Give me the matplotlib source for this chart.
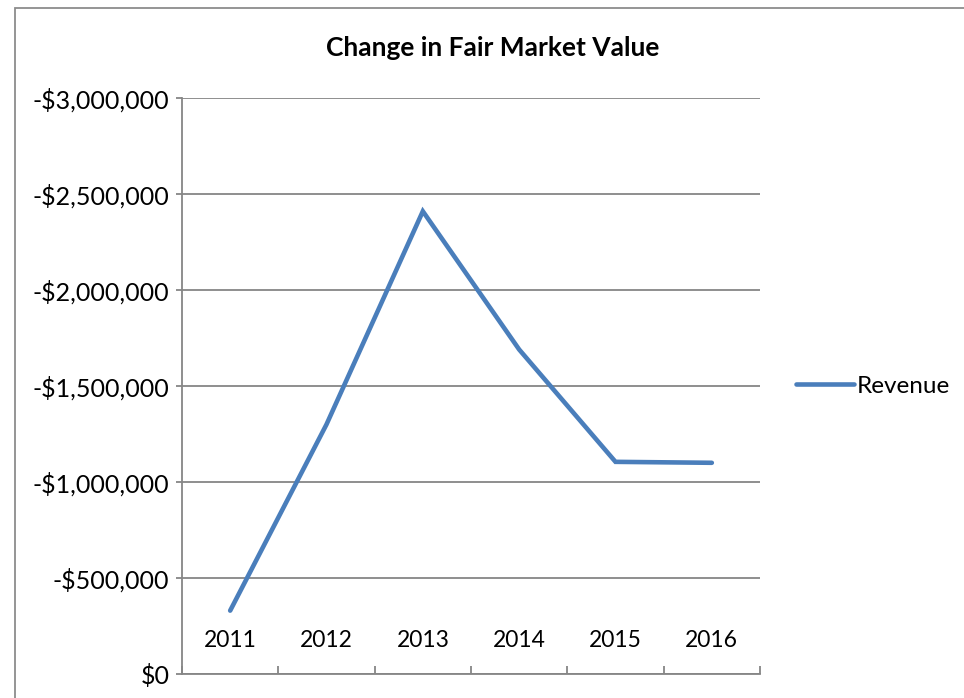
import numpy as np
import matplotlib.pyplot as plt
from matplotlib.patches import Rectangle

# values (negative dollars, axis shown reversed)
years = ['2011', '2012', '2013', '2014', '2015', '2016']
revenue = [-330000, -1300000, -2410000, -1690000, -1105000, -1100000]
yticks = [0, -500000, -1000000, -1500000, -2000000, -2500000, -3000000]

plt.rcParams['font.family'] = ['Lato', 'DejaVu Sans']

fig = plt.figure(figsize=(9.64, 6.98), dpi=100)

# outer chart frame
fig.patches.append(Rectangle((15 / 964, -0.05), 1.1, 1 - 8 / 698 + 0.05,
                             transform=fig.transFigure, fill=False,
                             edgecolor='#8c8c8c', lw=1.3))

ax = fig.add_axes([182 / 964, 24 / 698, 578 / 964, 576 / 698])

x = np.arange(len(years))
ax.plot(x, revenue, color='#4A7EBB', lw=3.3, solid_capstyle='round',
        solid_joinstyle='miter', label='Revenue')

ax.set_xlim(-0.5, len(years) - 0.5)
ax.set_ylim(0, -3000000)

ax.set_yticks(yticks)
ax.set_yticklabels(['$0' if v == 0 else '-${:,.0f}'.format(-v) for v in yticks])
ax.grid(axis='y', color='#868686', lw=1.3)
ax.set_axisbelow(True)

# category boundary ticks, pointing up into the plot
ax.set_xticks(np.arange(len(years) + 1) - 0.5)
ax.set_xticklabels([])
ax.tick_params(axis='x', direction='in', length=6, width=1.3, color='#868686')
ax.tick_params(axis='y', direction='out', length=4, width=1.3, color='#868686',
               labelsize=18, pad=5)

# category labels sit inside the plot, above the bottom line
for i, yr in enumerate(years):
    ax.text(i, -177000, yr, ha='center', va='center', fontsize=16.5)

for s in ['top', 'right']:
    ax.spines[s].set_visible(False)
for s in ['left', 'bottom']:
    ax.spines[s].set_color('#868686')
    ax.spines[s].set_linewidth(1.3)

fig.text(493 / 964, 1 - 48 / 698, 'Change in Fair Market Value',
         ha='center', va='center', fontsize=19, fontweight='bold')

fig.legend(loc='center left', bbox_to_anchor=(774 / 964, 1 - 386 / 698),
           frameon=False, fontsize=17.5, handlelength=2.4, handletextpad=0.1)

fig.savefig('out.png', dpi=100)
